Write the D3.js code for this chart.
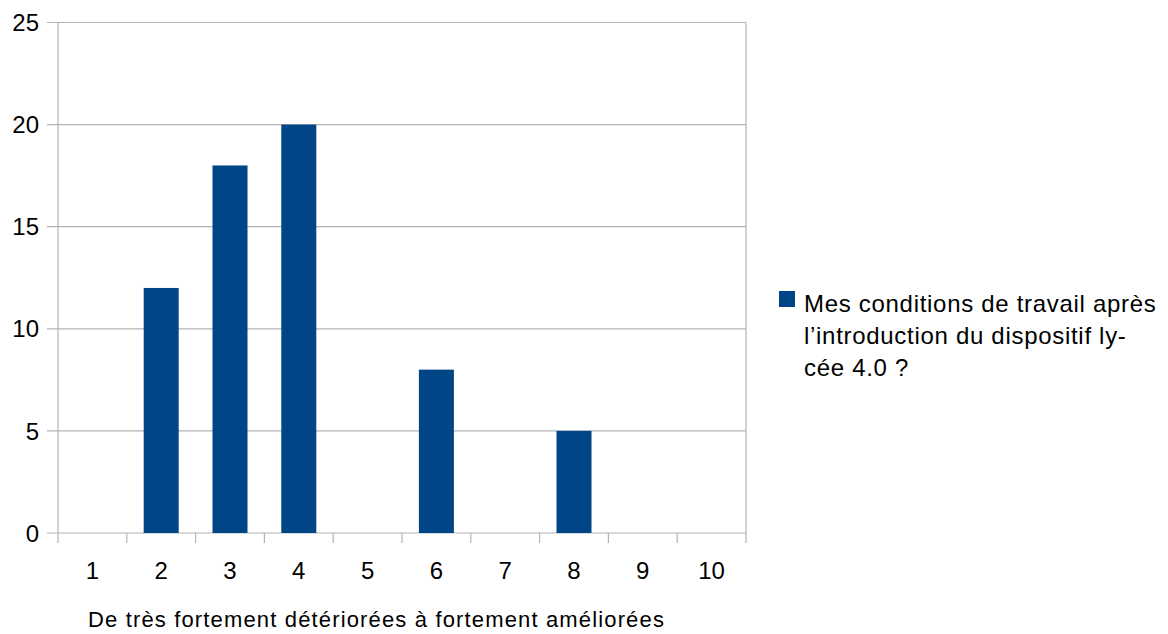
<!DOCTYPE html>
<html><head><meta charset="utf-8">
<script src="https://cdn.jsdelivr.net/npm/d3@7"></script>
<style>body{margin:0;background:#fff}svg{display:block}text{font-family:"Liberation Sans",Arial,sans-serif;fill:#000}</style>
</head><body>
<script>
const categories = ["1","2","3","4","5","6","7","8","9","10"];
const values = [0,12,18,20,0,8,0,5,0,0];
const yTicks = [0,5,10,15,20,25];
const seriesName = ["Mes conditions de travail après","l’introduction du dispositif ly-","cée 4.0 ?"];
const xTitle = "De très fortement détériorées à fortement améliorées";

const W=1168,H=634;
const svg=d3.select("body").append("svg").attr("width",W).attr("height",H);
const L=58,R=746,T=22.5,B=533;
const x=d3.scaleBand().domain(categories).range([L,R]).paddingInner(0).paddingOuter(0);
const y=d3.scaleLinear().domain([0,25]).range([B,T]);
const grid="#b3b3b3";

// horizontal gridlines
svg.append("g").selectAll("line").data(yTicks).join("line")
  .attr("x1",L-11).attr("x2",R).attr("y1",d=>y(d)).attr("y2",d=>y(d))
  .attr("stroke",grid).attr("stroke-width",1.2);
// left and right frame
svg.append("line").attr("x1",L).attr("x2",L).attr("y1",T).attr("y2",B+10).attr("stroke",grid).attr("stroke-width",1.2);
svg.append("line").attr("x1",R).attr("x2",R).attr("y1",T).attr("y2",B+10).attr("stroke",grid).attr("stroke-width",1.2);
// x ticks at band boundaries
const bounds=categories.map(c=>x(c)).slice(1);
svg.append("g").selectAll("line").data(bounds).join("line")
  .attr("x1",d=>d).attr("x2",d=>d).attr("y1",B).attr("y2",B+10)
  .attr("stroke",grid).attr("stroke-width",1.2);

// bars
const bw=35;
svg.append("g").selectAll("rect").data(categories).join("rect")
  .attr("x",(c)=>x(c)+x.bandwidth()/2-bw/2).attr("width",bw)
  .attr("y",(c,i)=>y(values[i])).attr("height",(c,i)=>B-y(values[i]))
  .attr("fill","#004586");

// y labels
svg.append("g").selectAll("text").data(yTicks).join("text")
  .attr("x",39).attr("y",d=>y(d)).attr("dy","0.36em").attr("text-anchor","end")
  .attr("font-size",24).text(d=>d);
// x labels
svg.append("g").selectAll("text").data(categories).join("text")
  .attr("x",c=>x(c)+x.bandwidth()/2).attr("y",579).attr("text-anchor","middle")
  .attr("font-size",24).text(c=>c);
// x title
svg.append("text").attr("x",88).attr("y",627).attr("font-size",22)
  .attr("letter-spacing","1.15px").text(xTitle);

// legend
svg.append("rect").attr("x",779).attr("y",291).attr("width",16).attr("height",16).attr("fill","#004586");
svg.append("g").selectAll("text").data(seriesName).join("text")
  .attr("x",804).attr("y",(d,i)=>311.5+i*32)
  .attr("font-size",24).attr("letter-spacing","0.7px").text(d=>d);
</script>
</body></html>
